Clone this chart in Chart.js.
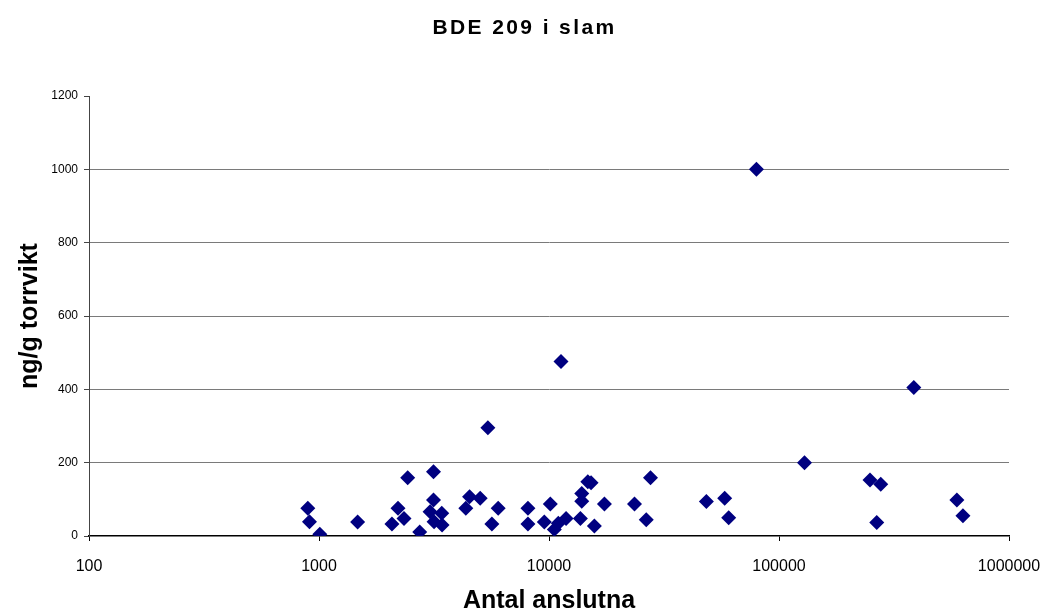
<!DOCTYPE html>
<html>
<head>
<meta charset="utf-8">
<script src="https://cdn.jsdelivr.net/npm/chart.js@4/dist/chart.umd.min.js"></script>
<style>
  html, body { margin: 0; padding: 0; background: #fff; }
  #wrap { width: 1047px; height: 615px; }
</style>
</head>
<body>
<div id="wrap"><canvas id="slamChart"></canvas></div>
<script>
// Antal anslutna (x) och BDE 209 halt i ng/g torrvikt (y)
const antal = [894, 909, 1008, 1472, 2076, 2205, 2342, 2430, 2741, 3146,
               3146, 3040, 3418, 3165, 3428, 4348, 4514, 5020, 5423, 5644,
               6013, 8099, 8099, 9539, 10130, 10546, 10978, 11280, 11863, 13690,
               13884, 13884, 14745, 15240, 15752, 17418, 23530, 26470, 27630, 48320,
               58060, 60420, 79800, 129100, 248700, 266000, 276900, 385500, 593500, 630500];
const halt = [76, 39, 5, 38, 33, 76, 48, 159, 11, 175,
              98, 66, 62, 39, 30, 76, 107, 103, 295, 33,
              76, 76, 33, 38, 87, 18, 35, 476, 48, 48,
              95, 116, 148, 145, 27, 87, 87, 44, 159, 94,
              103, 50, 1000, 200, 153, 37, 141, 405, 98, 55];

const xTicks = [100, 1000, 10000, 100000, 1000000];
const yTicks = [0, 200, 400, 600, 800, 1000, 1200];

const chartTitle = 'BDE 209 i slam';
const FONT = 'Arial, "Liberation Sans", sans-serif';

const points = antal.map((a, i) => ({x: a, y: halt[i]}));

// rubriken ritas själv för att få den glesa bokstavsavståndet
const spacedTitle = {
    id: 'spacedTitle',
    afterDraw(chart) {
        const c = chart.ctx;
        c.save();
        c.font = 'bold 21px ' + FONT;
        c.letterSpacing = '2.4px';
        c.fillStyle = '#000';
        c.textAlign = 'center';
        c.textBaseline = 'middle';
        c.fillText(chartTitle, chart.width / 2 + 1, 28);
        c.restore();
    }
};

const ctx = document.getElementById('slamChart').getContext('2d');
new Chart(ctx, {
    type: 'scatter',
    data: {
        datasets: [{
            label: 'BDE 209',
            data: points,
            pointStyle: 'rectRot',
            pointRadius: 7.5,
            backgroundColor: '#000080',
            borderColor: '#000080',
            borderWidth: 0
        }]
    },
    plugins: [spacedTitle],
    options: {
        responsive: true,
        maintainAspectRatio: false,
        animation: false,
        layout: {padding: {left: 0, right: 38, top: 96, bottom: 0}},
        plugins: {
            legend: {display: false},
            tooltip: {enabled: false},
            title: {display: false}
        },
        scales: {
            x: {
                type: 'logarithmic',
                min: xTicks[0],
                max: xTicks[xTicks.length - 1],
                afterBuildTicks: scale => {
                    scale.ticks = xTicks.map(v => ({value: v}));
                },
                afterFit: scale => {
                    scale.height = 79;
                    scale.paddingLeft = 0;
                    scale.paddingRight = 0;
                },
                ticks: {
                    color: '#000',
                    padding: 16,
                    maxRotation: 0,
                    autoSkip: false,
                    font: {family: FONT, size: 16},
                    callback: v => String(v)
                },
                grid: {
                    drawOnChartArea: false,
                    drawTicks: true,
                    tickLength: 5,
                    tickColor: '#000'
                },
                border: {color: '#000', width: 1.5},
                title: {
                    display: true,
                    text: 'Antal anslutna',
                    color: '#000',
                    font: {family: FONT, size: 25, weight: 'bold', lineHeight: 1},
                    padding: {top: 0, bottom: 1.5}
                }
            },
            y: {
                min: 0,
                max: 1200,
                afterBuildTicks: scale => {
                    scale.ticks = yTicks.map(v => ({value: v}));
                },
                afterFit: scale => { scale.width = 89; },
                ticks: {
                    color: '#000',
                    padding: 6,
                    font: {family: FONT, size: 12},
                    callback: v => String(v)
                },
                grid: {
                    color: c => (c.tick && c.tick.value > 0 && c.tick.value < 1200) ? '#7a7a7a' : 'rgba(0,0,0,0)',
                    lineWidth: 1,
                    drawTicks: true,
                    tickLength: 5,
                    tickColor: '#444'
                },
                border: {color: '#444', width: 1},
                title: {
                    display: true,
                    text: 'ng/g torrvikt',
                    color: '#000',
                    font: {family: FONT, size: 25, weight: 'bold', lineHeight: 1.2},
                    padding: {top: 15, bottom: 0}
                }
            }
        }
    }
});
</script>
</body>
</html>
